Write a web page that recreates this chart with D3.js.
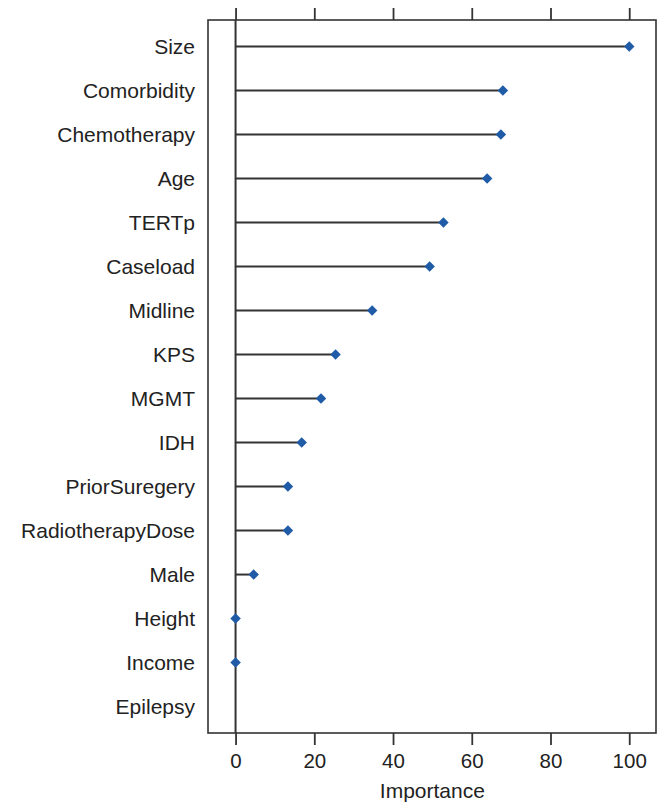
<!DOCTYPE html>
<html>
<head>
<meta charset="utf-8">
<script src="https://cdn.jsdelivr.net/npm/d3@7"></script>
<style>
  html, body { margin: 0; padding: 0; background: #fff; }
  svg text { font-family: "Liberation Sans", Arial, Helvetica, sans-serif; fill: #222; }
</style>
</head>
<body>
<div id="chart"></div>
<script>
const VARIABLES = ['Size', 'Comorbidity', 'Chemotherapy', 'Age', 'TERTp', 'Caseload', 'Midline',
	'KPS', 'MGMT', 'IDH', 'PriorSuregery', 'RadiotherapyDose', 'Male', 'Height', 'Income', 'Epilepsy'];
const IMPORTANCE = [100, 67.9, 67.4, 63.9, 52.8, 49.3, 34.7, 25.4, 21.7, 16.8, 13.3, 13.3, 4.6, 0, 0, null];
const X_TICKS = [0, 20, 40, 60, 80, 100];
const X_LABEL = 'Importance';

const WIDTH = 657;
const HEIGHT = 804;
const BOX = { left: 208, right: 656, top: 20, bottom: 733 };
const LINE_COLOR = '#333';
const POINT_COLOR = '#1f5ba6';
const FONT_SIZE = '21px';

const data = VARIABLES.map((name, i) => ({ name, value: IMPORTANCE[i] }));

const svg = d3.select('#chart')
	.append('svg')
		.attr('width', WIDTH)
		.attr('height', HEIGHT);

const x = d3.scaleLinear()
	.domain([-7, 106.8])
	.range([BOX.left, BOX.right]);

const y = d3.scalePoint()
	.domain(VARIABLES)
	.range([BOX.top, BOX.bottom])
	.padding(0.6);

// frame
svg.append('rect')
	.attr('x', BOX.left)
	.attr('y', BOX.top)
	.attr('width', BOX.right - BOX.left)
	.attr('height', BOX.bottom - BOX.top)
	.attr('fill', 'none')
	.attr('stroke', LINE_COLOR)
	.attr('stroke-width', 1.6);

// axes
const xAxisBottom = d3.axisBottom(x).tickValues(X_TICKS).tickSize(12).tickPadding(8);
const xAxisTop = d3.axisTop(x).tickValues(X_TICKS).tickSize(12).tickFormat('');

const bottomG = svg.append('g')
	.attr('transform', `translate(0, ${BOX.bottom})`)
	.call(xAxisBottom);
const topG = svg.append('g')
	.attr('transform', `translate(0, ${BOX.top})`)
	.call(xAxisTop);

[bottomG, topG].forEach(g => {
	g.select('.domain').remove();
	g.selectAll('.tick line').attr('stroke', LINE_COLOR).attr('stroke-width', 1.8);
	g.selectAll('.tick text')
		.attr('fill', '#222')
		.style('font-size', '20.5px')
		.style('font-family', '"Liberation Sans", Arial, sans-serif');
});

const yAxis = d3.axisLeft(y).tickSize(0).tickPadding(13);
const yG = svg.append('g')
	.attr('transform', `translate(${BOX.left}, 0)`)
	.call(yAxis);
yG.select('.domain').remove();
yG.selectAll('.tick text')
	.attr('fill', '#222')
	.style('font-size', FONT_SIZE)
	.style('font-family', '"Liberation Sans", Arial, sans-serif');

// axis title
svg.append('text')
	.attr('x', (x(0) + x(100)) / 2)
	.attr('y', 798)
	.attr('text-anchor', 'middle')
	.style('font-size', FONT_SIZE)
	.text(X_LABEL);

// zero reference line
svg.append('line')
	.attr('x1', x(0))
	.attr('x2', x(0))
	.attr('y1', BOX.top)
	.attr('y2', BOX.bottom)
	.attr('stroke', LINE_COLOR)
	.attr('stroke-width', 2);

const shown = data.filter(d => d.value !== null);

// stems
svg.append('g')
	.selectAll('line')
	.data(shown)
	.enter()
	.append('line')
		.attr('x1', x(0))
		.attr('x2', d => x(d.value))
		.attr('y1', d => y(d.name))
		.attr('y2', d => y(d.name))
		.attr('stroke', LINE_COLOR)
		.attr('stroke-width', 2);

// diamonds
const diamond = d3.symbol().type(d3.symbolSquare).size(55);
svg.append('g')
	.selectAll('path')
	.data(shown)
	.enter()
	.append('path')
		.attr('d', diamond)
		.attr('transform', d => `translate(${x(d.value)}, ${y(d.name)}) rotate(45)`)
		.attr('fill', POINT_COLOR);
</script>
</body>
</html>
